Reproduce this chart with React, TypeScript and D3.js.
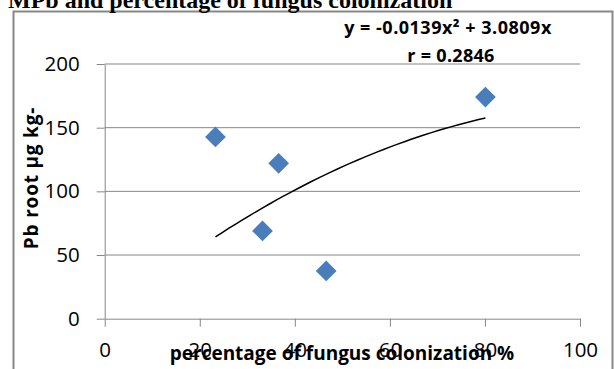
import { useEffect, useRef } from 'react'
import * as d3 from 'd3'

const WIDTH = 614
const HEIGHT = 369
const PLOT = { left: 104.7, right: 580, top: 64, bottom: 318.7 }

// colonization % and Pb root values
const colonization = [23.3, 36.6, 33.2, 46.6, 80.1]
const pbRoot = [142.7, 122, 68.9, 37.5, 174]

const xTicks = [0, 20, 40, 60, 80, 100]
const yTicks = [0, 50, 100, 150, 200]

// polynomial trendline (order 2, through origin) as printed on the chart
const trendCoefficients = [-0.0139, 3.0809]
const equationLabel = 'y = -0.0139x² + 3.0809x'
const rLabel = 'r = 0.2846'

const titleText = 'MPb and percentage of fungus colonization'
const xTitle = 'percentage of fungus colonization %'
const yTitle = 'Pb root µg kg-'

const SANS = "'Open Sans', 'Liberation Sans', sans-serif"
const GRID = '#878787'

export default function App() {
  const svgRef = useRef<SVGSVGElement | null>(null)

  useEffect(() => {
    const svg = d3.select(svgRef.current)
    svg.selectAll('*').remove()

    const x = d3.scaleLinear().domain([0, 100]).range([PLOT.left, PLOT.right])
    const y = d3.scaleLinear().domain([0, 200]).range([PLOT.bottom, PLOT.top])

    svg.append('rect').attr('width', WIDTH).attr('height', HEIGHT).attr('fill', '#fff')

    // chart frame
    svg
      .append('rect')
      .attr('x', 13.5)
      .attr('y', 11.5)
      .attr('width', WIDTH - 15)
      .attr('height', HEIGHT)
      .attr('fill', 'none')
      .attr('stroke', '#888')
      .attr('stroke-width', 2)

    // heading, cropped by the top edge like the source scan
    svg
      .append('text')
      .attr('x', 8)
      .attr('y', 7.5)
      .attr('font-family', "'Liberation Serif', 'Times New Roman', serif")
      .attr('font-weight', 700)
      .attr('font-size', 24)
      .attr('fill', '#000')
      .text(titleText)

    // horizontal gridlines
    svg
      .append('g')
      .selectAll('line')
      .data(yTicks.filter((t) => t > 0))
      .join('line')
      .attr('x1', PLOT.left)
      .attr('x2', PLOT.right)
      .attr('y1', (t) => y(t))
      .attr('y2', (t) => y(t))
      .attr('stroke', GRID)
      .attr('stroke-width', 1)

    const yAxis = svg
      .append('g')
      .attr('transform', `translate(${PLOT.left},0)`)
      .call(d3.axisLeft(y).tickValues(yTicks).tickSize(8).tickPadding(17).tickSizeOuter(0))
    yAxis.select('.domain').attr('stroke', GRID)
    yAxis.selectAll('line').attr('stroke', GRID)
    yAxis
      .selectAll('text')
      .attr('fill', '#000')
      .attr('font-size', 20.5)
      .attr('font-family', SANS)

    const xAxis = svg
      .append('g')
      .attr('transform', `translate(0,${PLOT.bottom})`)
      .call(d3.axisBottom(x).tickValues(xTicks).tickSize(8).tickPadding(15.5).tickSizeOuter(0))
    xAxis.select('.domain').attr('stroke', GRID)
    xAxis.selectAll('line').attr('stroke', GRID)
    xAxis
      .selectAll('text')
      .attr('fill', '#000')
      .attr('font-size', 20.5)
      .attr('font-family', SANS)

    // trendline over the data range
    const [xMin, xMax] = d3.extent(colonization) as [number, number]
    const trend = d3.range(0, 41).map((i) => {
      const xv = xMin + ((xMax - xMin) * i) / 40
      return [xv, trendCoefficients[0] * xv * xv + trendCoefficients[1] * xv] as [number, number]
    })
    svg
      .append('path')
      .datum(trend)
      .attr('fill', 'none')
      .attr('stroke', '#000')
      .attr('stroke-width', 1.5)
      .attr(
        'd',
        d3
          .line<[number, number]>()
          .x((d) => x(d[0]))
          .y((d) => y(d[1])),
      )

    // diamond markers
    const diamond = d3.symbol().type(d3.symbolSquare).size(215)
    svg
      .append('g')
      .selectAll('path')
      .data(colonization.map((c, i) => ({ c, v: pbRoot[i] })))
      .join('path')
      .attr('d', diamond)
      .attr('transform', (d) => `translate(${x(d.c)},${y(d.v)}) rotate(45)`)
      .attr('fill', '#4a7ebb')

    // trendline equation
    svg
      .append('text')
      .attr('x', 448)
      .attr('y', 34)
      .attr('text-anchor', 'middle')
      .attr('font-family', SANS)
      .attr('font-weight', 700)
      .attr('font-size', 18)
      .attr('letter-spacing', 0.5)
      .text(equationLabel)
    svg
      .append('text')
      .attr('x', 451)
      .attr('y', 61.5)
      .attr('text-anchor', 'middle')
      .attr('font-family', SANS)
      .attr('font-weight', 700)
      .attr('font-size', 18)
      .attr('letter-spacing', 0.3)
      .text(rLabel)

    // axis titles
    svg
      .append('text')
      .attr('x', 342)
      .attr('y', 360)
      .attr('text-anchor', 'middle')
      .attr('font-family', SANS)
      .attr('font-weight', 700)
      .attr('font-size', 19)
      .text(xTitle)
    svg
      .append('text')
      .attr('transform', 'translate(37.5,178) rotate(-90)')
      .attr('text-anchor', 'middle')
      .attr('font-family', SANS)
      .attr('font-weight', 700)
      .attr('font-size', 19)
      .attr('letter-spacing', 0.8)
      .text(yTitle)
  }, [])

  return (
    <svg
      ref={svgRef}
      width={WIDTH}
      height={HEIGHT}
      style={{ position: 'fixed', left: 0, top: 0, display: 'block' }}
    />
  )
}
